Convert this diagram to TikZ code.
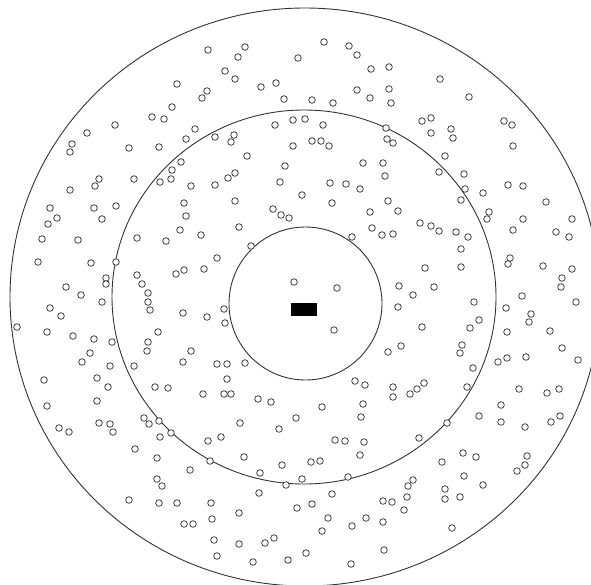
\documentclass[tikz,border=0pt]{standalone}
\begin{document}
\begin{tikzpicture}[x=1pt,y=-1pt,
  ring/.style={draw=black!80,line width=0.9pt},
  dot/.style={draw=black!75,line width=0.8pt,fill=white}]
\useasboundingbox (0,0) rectangle (591,584);
\fill[white] (0,0) rectangle (591,584);
\begin{scope}
\clip (0,0) rectangle (591,584);
\draw[ring] (305,297) ellipse [x radius=295, y radius=289];
\end{scope}
\draw[ring] (304,297) ellipse [x radius=192, y radius=187];
\draw[ring] (305.5,303.5) circle [radius=76.5];
\fill[black] (291,303) rectangle (317,316);
\foreach \p in {
(115,125),(87,133),(72,144),(70,152),(129,148),(70,190),(99,179),(95,186),(134,179),
(208,50),(245,47),(238,57),(225,71),(235,79),(177,84),(207,91),(202,98),(261,87),(276,83),(284,99),(172,107),(152,117),(164,119),(275,125),(293,120),(195,129),(186,139),(215,137),(234,135),(231,142),(159,147),(293,146),(247,156),(181,162),(172,170),(171,179),(160,182),(285,166),(235,173),(228,178),(191,186),(215,185),(280,182),
(324,42),(349,46),(357,55),(298,58),(371,69),(389,67),(440,79),(357,90),(370,98),(389,89),(391,103),(312,100),(333,103),(305,119),(323,125),(422,121),(431,118),(431,133),(386,128),(387,139),(393,143),(312,141),(321,141),(329,146),(363,163),(383,163),(385,176),(445,156),(439,172),(330,183),(346,184),(360,189),(302,195),
(469,97),(504,121),(512,125),(451,129),(453,138),(513,146),(464,174),(465,189),(483,193),(508,185),(523,186),
(50,208),(94,208),(116,206),(57,218),(48,224),(102,219),(42,239),(78,240),(137,238),(38,262),(91,263),(116,262),(106,278),(106,284),(137,275),(142,284),(148,293),(148,302),(150,310),(66,287),(81,295),(102,302),(50,308),(61,316),(17,327),(47,332),(73,336),(94,339),(112,342),(148,342),(147,351),(90,353),(82,362),(110,366),(134,366),(44,380),(97,378),(108,387),
(184,203),(235,201),(273,209),(281,215),(289,218),(186,216),(180,230),(239,227),(201,235),(166,241),(251,246),(217,258),(204,269),(184,270),(176,274),(294,282),(183,313),(207,317),(224,309),(225,323),(158,332),(191,351),(183,362),(217,364),(227,364),(245,363),(227,379),(155,387),(168,388),
(332,203),(388,201),(370,212),(398,211),(420,223),(431,226),(439,231),(372,228),(382,235),(393,234),(352,237),(425,268),(399,286),(434,287),(413,295),(398,307),(337,288),(334,330),(422,327),(401,346),(388,352),(355,381),(365,385),(393,387),(424,383),(417,389),
(461,200),(546,202),(489,212),(487,219),(523,219),(572,219),(513,230),(556,232),(569,237),(456,232),(468,237),(461,249),(461,267),(510,258),(508,264),(543,266),(572,269),(562,278),(561,287),(474,302),(522,296),(576,302),(506,308),(531,314),(529,322),(479,320),(470,328),(507,332),(550,331),(462,345),(460,353),(562,348),(507,358),(498,362),(526,357),(578,360),(473,368),(467,387),(519,389),(559,389),(547,393),
(47,406),(97,401),(59,428),(69,432),(99,423),(110,424),(113,432),(144,418),(149,424),(135,449),(129,500),
(203,394),(224,394),(231,394),(258,399),(271,402),(159,421),(240,423),(279,429),(296,418),(160,437),(171,433),(208,441),(221,437),(157,458),(244,457),(210,461),(190,470),(260,473),(282,465),(157,479),(162,486),(286,485),(259,493),(159,503),(177,503),(211,503),(297,508),(239,513),(212,519),(184,524),(193,524),(214,540),(239,544),(265,543),(274,538),(217,556),(253,562),(288,560),
(393,397),(410,394),(322,407),(363,404),(361,417),(335,440),(345,441),(364,442),(360,455),(419,438),(311,462),(320,461),(442,462),(302,479),(348,477),(413,480),(408,486),(407,497),(332,494),(312,504),(383,501),(392,502),(404,510),(445,489),(445,499),(328,518),(322,531),(352,526),(366,518),(383,522),(306,553),(384,550),(351,564),
(501,405),(479,416),(501,422),(525,427),(551,422),(560,416),(447,423),(463,453),(476,457),(527,456),(525,465),(517,471),(464,476),(483,485),(460,497),(452,528)}
  \draw[dot] \p circle [radius=3.3];
\end{tikzpicture}
\end{document}
